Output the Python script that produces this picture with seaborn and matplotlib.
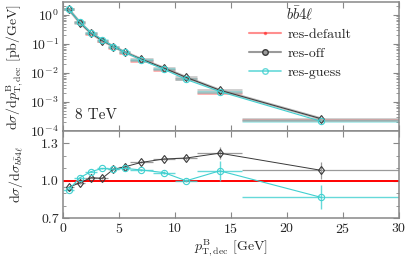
import numpy as np
import pandas as pd
import matplotlib
matplotlib.use('Agg')
import matplotlib.pyplot as plt
import seaborn as sns
from matplotlib.ticker import LogLocator, FixedLocator, NullFormatter, MultipleLocator
from matplotlib.lines import Line2D

# bin edges and centres [GeV]
bin_lo = [0, 1, 2, 3, 4, 5, 6, 8, 10, 12, 16]
bin_hi = [1, 2, 3, 4, 5, 6, 8, 10, 12, 16, 30]
bin_mid = [0.5, 1.5, 2.5, 3.5, 4.5, 5.5, 7, 9, 11, 14, 23]

# dsigma/dpT [pb/GeV]
xs_default = [1.68, 0.56, 0.23, 0.13, 0.075, 0.048, 0.026, 0.0127, 0.0060, 0.0021, 0.00025]
xs_off = [1.59, 0.55, 0.236, 0.132, 0.082, 0.053, 0.030, 0.0149, 0.0071, 0.00257, 0.00027]
xs_guess = [1.56, 0.57, 0.247, 0.143, 0.082, 0.053, 0.0283, 0.0135, 0.0060, 0.0023, 0.00022]

# ratio to res-default
ratio_off = [0.947, 0.984, 1.025, 1.02, 1.093, 1.112, 1.148, 1.175, 1.183, 1.222, 1.085]
ratio_off_err = [0.006, 0.006, 0.006, 0.007, 0.007, 0.008, 0.008, 0.010, 0.012, 0.047, 0.068]
ratio_guess = [0.929, 1.025, 1.074, 1.099, 1.093, 1.10, 1.087, 1.066, 1.0, 1.08, 0.868]
ratio_guess_err = [0.006, 0.006, 0.007, 0.007, 0.008, 0.008, 0.009, 0.010, 0.012, 0.082, 0.096]

COL_DEF = '#ff2020'
COL_OFF = '#3a3a3a'
COL_OFF_BAR = '#9a9a9a'
COL_GUESS = '#40d0d0'
COL_SPINE = '#888888'

sns.set_theme(style='ticks')
plt.rcParams['font.family'] = ['cmr10', 'DejaVu Serif']
plt.rcParams['mathtext.fontset'] = 'cm'
plt.rcParams['axes.formatter.use_mathtext'] = True
plt.rcParams['axes.unicode_minus'] = False

df = pd.DataFrame({'pt': bin_mid, 'lo': bin_lo, 'hi': bin_hi,
                   'xs_default': xs_default, 'xs_off': xs_off, 'xs_guess': xs_guess,
                   'r_off': ratio_off, 'r_off_err': ratio_off_err,
                   'r_guess': ratio_guess, 'r_guess_err': ratio_guess_err})
xerr = [df['pt'] - df['lo'], df['hi'] - df['pt']]

fig = plt.figure(figsize=(4.07, 2.59), dpi=100)
ax1 = fig.add_axes([0.155, 0.494, 0.825, 0.498])
ax2 = fig.add_axes([0.155, 0.158, 0.825, 0.336], sharex=ax1)

# --- top panel: distributions ---
ax1.errorbar(df['pt'], df['xs_default'], xerr=xerr, fmt='none',
             ecolor=COL_DEF, elinewidth=1.8, alpha=0.45)
ax1.errorbar(df['pt'], df['xs_off'], xerr=xerr, fmt='none',
             ecolor=COL_OFF_BAR, elinewidth=2.0, alpha=0.5)
ax1.errorbar(df['pt'], df['xs_guess'], xerr=xerr, fmt='none',
             ecolor=COL_GUESS, elinewidth=1.8, alpha=0.5)
sns.lineplot(data=df, x='pt', y='xs_off', ax=ax1, color=COL_OFF_BAR, lw=2.0, alpha=0.7)
sns.lineplot(data=df, x='pt', y='xs_off', ax=ax1, color=COL_OFF, lw=0.7,
             marker='d', markersize=4.5, markerfacecolor='none',
             markeredgecolor=COL_OFF, markeredgewidth=0.8)
sns.lineplot(data=df, x='pt', y='xs_guess', ax=ax1, color=COL_GUESS, lw=0.8,
             marker='o', markersize=4.5, markerfacecolor='none',
             markeredgecolor=COL_GUESS, markeredgewidth=0.8)
ax1.set_yscale('log')
ax1.set_ylim(1e-4, 2.8)
ax1.yaxis.set_major_locator(LogLocator(base=10, numticks=10))
ax1.yaxis.set_minor_locator(LogLocator(base=10, subs=np.arange(2, 10), numticks=10))
ax1.yaxis.set_minor_formatter(NullFormatter())
ax1.set_ylabel(r'$\mathrm{d}\sigma/\mathrm{d}p^{\mathrm{B}}_{\mathrm{T,dec}}$ [pb/GeV]', fontsize=10)
ax1.yaxis.set_label_coords(-0.112, 0.5)
ax1.set_xlabel('')
ax1.tick_params(axis='x', labelbottom=False)
ax1.text(0.035, 0.07, '8 TeV', transform=ax1.transAxes, fontsize=11, ha='left', va='bottom')

handles = [
    Line2D([], [], color=COL_DEF, lw=1.5, alpha=0.5, marker='.', markersize=3,
           markerfacecolor=COL_DEF, markeredgecolor=COL_DEF),
    Line2D([], [], color=COL_OFF_BAR, lw=1.5, marker='o', markersize=4,
           markerfacecolor=COL_OFF_BAR, markeredgecolor=COL_OFF),
    Line2D([], [], color=COL_GUESS, lw=1.2, alpha=0.8, marker='o', markersize=4,
           markerfacecolor='none', markeredgecolor=COL_GUESS),
]
leg = ax1.legend(handles, ['res-default', 'res-off', 'res-guess'],
                 title=r'$b\bar{b}4\ell$', loc='upper left', frameon=False,
                 fontsize=10, title_fontsize=10.5, handlelength=2.3,
                 handletextpad=0.45, labelspacing=0.45, borderpad=0.2,
                 bbox_to_anchor=(0.525, 1.058))

# --- bottom panel: ratios ---
ax2.axhline(1.0, color='#ff0000', lw=1.4, zorder=1)
ax2.errorbar(df['pt'], df['r_off'], xerr=xerr, yerr=df['r_off_err'], fmt='none',
             ecolor=COL_OFF_BAR, elinewidth=0.9)
ax2.errorbar(df['pt'], df['r_guess'], xerr=xerr, yerr=df['r_guess_err'], fmt='none',
             ecolor=COL_GUESS, elinewidth=1.0, alpha=0.8)
sns.lineplot(data=df, x='pt', y='r_off', ax=ax2, color=COL_OFF, lw=0.7,
             marker='d', markersize=4.5, markerfacecolor='none',
             markeredgecolor=COL_OFF, markeredgewidth=0.8)
sns.lineplot(data=df, x='pt', y='r_guess', ax=ax2, color=COL_GUESS, lw=0.8,
             marker='o', markersize=4.5, markerfacecolor='none',
             markeredgecolor=COL_GUESS, markeredgewidth=0.8)
ax2.set_ylim(0.7, 1.4)
ax2.yaxis.set_major_locator(FixedLocator([0.7, 1.0, 1.3]))
ax2.yaxis.set_minor_locator(FixedLocator([0.8, 0.9, 1.1, 1.2]))
ax2.set_yticklabels(['0.7', '1.0', '1.3'])
ax2.set_ylabel(r'$\mathrm{d}\sigma/\mathrm{d}\sigma_{b\bar{b}4\ell}$', fontsize=10)
ax2.yaxis.set_label_coords(-0.112, 0.5)
ax2.set_xlim(0, 30)
ax2.xaxis.set_major_locator(MultipleLocator(5))
ax2.set_xlabel(r'$p^{\mathrm{B}}_{\mathrm{T,dec}}$ [GeV]', fontsize=10, labelpad=1)

for ax in (ax1, ax2):
    for sp in ax.spines.values():
        sp.set_visible(True)
        sp.set_color(COL_SPINE)
        sp.set_linewidth(1.1)
    ax.tick_params(which='both', direction='in', top=True, right=True,
                   color=COL_SPINE, labelsize=10, pad=3)
    ax.tick_params(which='major', length=4, width=0.8)
    ax.tick_params(which='minor', length=2.5, width=0.6)

fig.savefig('out.png', dpi=100)
